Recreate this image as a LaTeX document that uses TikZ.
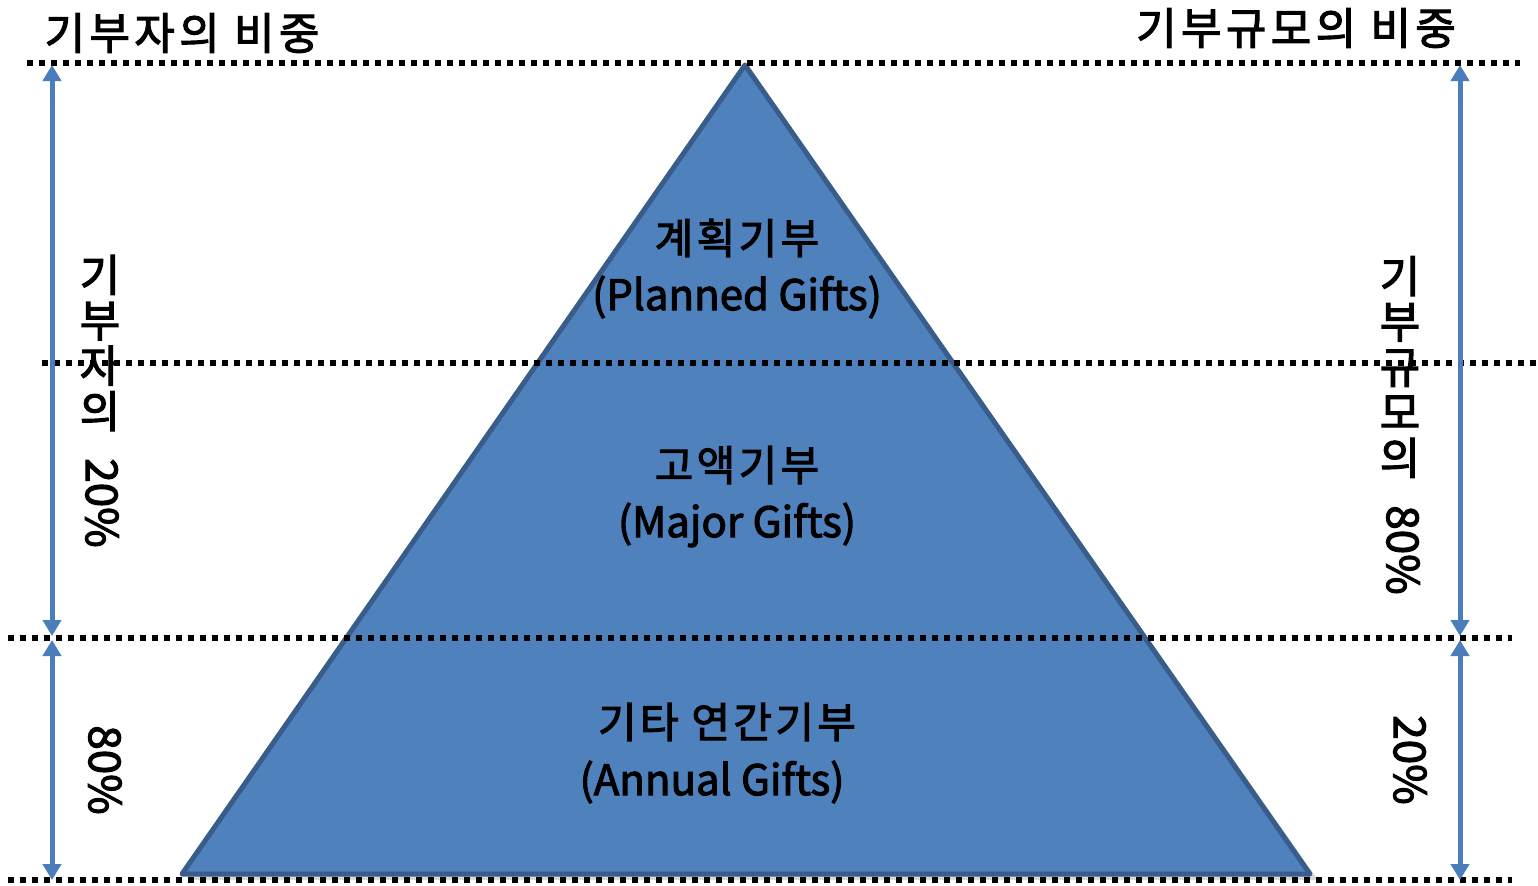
\documentclass[tikz,border=0pt]{standalone}
\usepackage{fontspec}
\setmainfont{Noto Sans CJK KR}[FakeBold=2.5]
\newfontfamily\spaced{Noto Sans CJK KR}[LetterSpace=10,FakeBold=2.5]
\newfontfamily\spacedb{Noto Sans CJK KR}[LetterSpace=8,FakeBold=2.5]
\usetikzlibrary{arrows.meta}
\definecolor{pyfill}{HTML}{4F81BD}
\definecolor{pyedge}{HTML}{385D8A}
\definecolor{arrowblue}{HTML}{4A7EBB}
\tikzset{
  dotline/.style={line width=3pt, dash pattern=on 3pt off 3pt},
  dimarrow/.style={draw=arrowblue, line width=2.5pt, {Triangle[width=9pt,length=8pt]}-{Triangle[width=9pt,length=8pt]}},
  title/.style={font=\spaced\fontsize{22}{24}\selectfont, inner sep=0pt, anchor=center},
  vstack/.style={font=\fontsize{22}{22.7}\selectfont, align=center, inner sep=0pt},
  pct/.style={font=\fontsize{22}{24}\selectfont, rotate=-90, inner sep=0pt},
  inner/.style={font=\spacedb\fontsize{21}{24}\selectfont, inner sep=0pt},
  innerlat/.style={font=\fontsize{21}{24}\selectfont, inner sep=0pt},
}
\begin{document}
\begin{tikzpicture}[x=0.5pt,y=-0.5pt]
\useasboundingbox (0,0) rectangle (1538,885);
% shadow and pyramid
\fill[black, opacity=0.15] (751,72) -- (1318,880) -- (188,880) -- cycle;
\filldraw[fill=pyfill, draw=pyedge, line width=2.5pt, line join=round] (745,65) -- (1310,874) -- (182,874) -- cycle;
% dotted lines
\coordinate (t1) at (27,63);   \coordinate (t2) at (1520,63);
\coordinate (m1) at (42,363);  \coordinate (m2) at (1538,363);
\coordinate (l1) at (8,638);   \coordinate (l2) at (1512,638);
\coordinate (b1) at (8,880);   \coordinate (b2) at (1512,880);
\draw[dotline] (t1) -- (t2);
\draw[dotline] (m1) -- (m2);
\draw[dotline] (l1) -- (l2);
\draw[dotline] (b1) -- (b2);
% arrows
\coordinate (la) at (52,65);  \coordinate (lb) at (52,636);
\coordinate (lc) at (52,640); \coordinate (ld) at (52,880);
\coordinate (ra) at (1460,65);  \coordinate (rb) at (1460,636);
\coordinate (rc) at (1460,640); \coordinate (rd) at (1460,880);
\draw[dimarrow] (la) -- (lb);
\draw[dimarrow] (lc) -- (ld);
\draw[dimarrow] (ra) -- (rb);
\draw[dimarrow] (rc) -- (rd);
% titles
\node[title] (tl) at (182,33) {기부자의 비중};
\node[title] (tr) at (1296,28) {기부규모의 비중};
% vertical labels
\node[vstack] (lk) at (100,343) {기\\부\\자\\의};
\node[pct] (lp) at (102,503) {20\%};
\node[pct] (lq) at (105,770) {80\%};
\node[vstack] (rk) at (1400,367) {기\\부\\규\\모\\의};
\node[pct] (rp) at (1403,550) {80\%};
\node[pct] (rq) at (1410,760) {20\%};
% pyramid labels
\node[inner] (p1) at (737,238) {계획기부};
\node[innerlat] (p2) at (737,297) {(Planned Gifts)};
\node[inner] (q1) at (737,465) {고액기부};
\node[innerlat] (q2) at (737,525) {(Major Gifts)};
\node[inner] (a1) at (727,722) {기타 연간기부};
\node[innerlat] (a2) at (712,782) {(Annual Gifts)};
\end{tikzpicture}
\end{document}
